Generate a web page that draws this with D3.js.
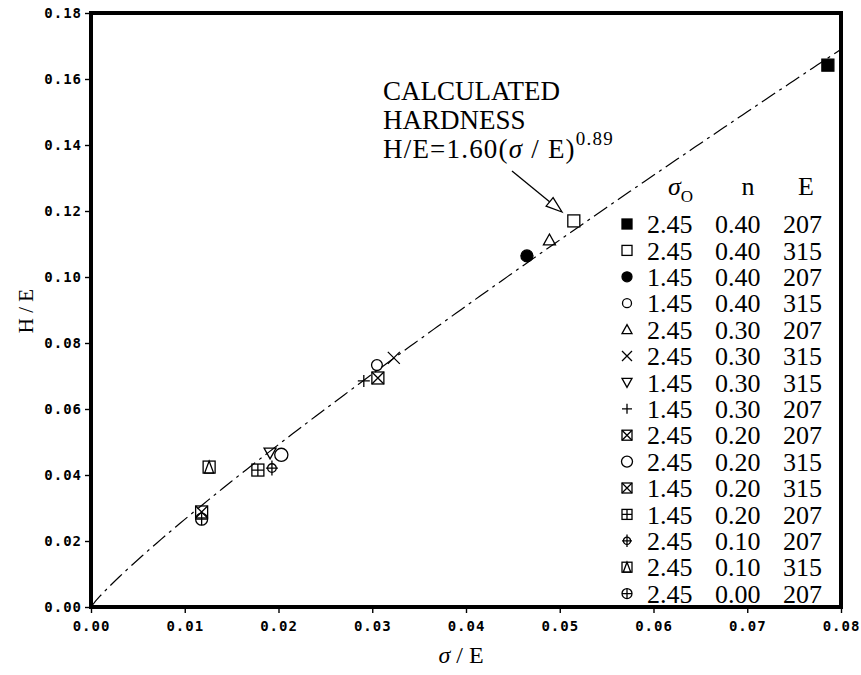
<!DOCTYPE html>
<html>
<head>
<meta charset="utf-8">
<script src="https://cdn.jsdelivr.net/npm/d3@7"></script>
<style>
  body { margin: 0; background: #fff; }
  svg { display: block; }
</style>
</head>
<body>
<svg id="chart" width="861" height="675"></svg>
<script>
// ---- data ----
const sigma0 = ["2.45", "2.45", "1.45", "1.45", "2.45", "2.45", "1.45", "1.45", "2.45", "2.45", "1.45", "1.45", "2.45", "2.45", "2.45"];
const nValues = ["0.40", "0.40", "0.40", "0.40", "0.30", "0.30", "0.30", "0.30", "0.20", "0.20", "0.20", "0.20", "0.10", "0.10", "0.00"];
const eValues = ["207", "315", "207", "315", "207", "315", "315", "207", "207", "315", "315", "207", "207", "315", "207"];
const markers = ["squareFilled", "square", "circleFilled", "circleSmall", "triUp", "cross", "triDown", "plus",
                 "squareX", "circleLarge", "squareX", "squareGrid", "circlePlusLong", "squareTri", "circlePlus"];
const sigmaOverE = [0.0786, 0.0515, 0.0465, 0.0305, 0.0489, 0.0323, 0.0191, 0.0291, 0.0306, 0.0203, 0.0118, 0.0178, 0.0193, 0.0126, 0.0118];
const hOverE     = [0.1642, 0.1170, 0.1064, 0.0733, 0.1112, 0.0755, 0.0467, 0.0685, 0.0694, 0.0461, 0.0288, 0.0415, 0.0421, 0.0424, 0.0266];

const xTicks = [0, 0.01, 0.02, 0.03, 0.04, 0.05, 0.06, 0.07, 0.08];
const yTicks = [0, 0.02, 0.04, 0.06, 0.08, 0.10, 0.12, 0.14, 0.16, 0.18];

// calculated hardness: H/E = 1.60 (sigma/E)^0.89
const fitCoef = 1.60;
const fitExp = 0.89;

// ---- layout ----
const svg = d3.select("#chart");
const x = d3.scaleLinear().domain([0, 0.08]).range([91, 841]);
const y = d3.scaleLinear().domain([0, 0.18]).range([607, 13]);

svg.append("rect").attr("width", 861).attr("height", 675).attr("fill", "#fff");

const tickFont = "'DejaVu Sans Mono', monospace";
const serif = "'Liberation Serif', 'Times New Roman', serif";

// axes
const yAxis = d3.axisLeft(y).tickValues(yTicks).tickSize(6).tickPadding(3).tickFormat(d3.format(".2f"));
const xAxis = d3.axisBottom(x).tickValues(xTicks).tickSize(6).tickPadding(8).tickFormat(d3.format(".2f"));

const gy = svg.append("g").attr("transform", `translate(${x(0)},0)`).call(yAxis);
const gx = svg.append("g").attr("transform", `translate(0,${y(0)})`).call(xAxis);
[gx, gy].forEach(g => {
  g.select(".domain").remove();
  g.selectAll(".tick line").attr("stroke", "#000").attr("stroke-width", 1.4);
  g.selectAll(".tick text")
    .attr("fill", "#000")
    .style("font-family", tickFont)
    .style("font-size", "14px")
    .style("font-weight", "bold")
    .style("letter-spacing", "1px");
});

// plot frame
svg.append("rect")
  .attr("x", x(0)).attr("y", y(0.18))
  .attr("width", x(0.08) - x(0)).attr("height", y(0) - y(0.18))
  .attr("fill", "none").attr("stroke", "#000").attr("stroke-width", 4);

// axis titles
svg.append("text")
  .attr("x", 461).attr("y", 663)
  .attr("text-anchor", "middle")
  .style("font-family", serif).style("font-size", "24px")
  .html("<tspan font-style='italic'>σ</tspan> / E");

svg.append("text")
  .attr("transform", "translate(33,311) rotate(-90)")
  .attr("text-anchor", "middle")
  .style("font-family", serif).style("font-size", "21px")
  .text("H / E");

// fitted curve
const fitX = d3.range(0, 0.08001, 0.0005);
const line = d3.line().x(d => x(d)).y(d => y(fitCoef * Math.pow(d, fitExp)));
svg.append("path")
  .datum(fitX)
  .attr("d", line)
  .attr("fill", "none")
  .attr("stroke", "#000")
  .attr("stroke-width", 1.2)
  .attr("stroke-dasharray", "16,5,3,5");

// marker glyphs
function drawMarker(g, type, s) {
  const h = s / 2;
  const sw = 1.3;
  const add = (tag) => g.append(tag).attr("stroke", "#000").attr("stroke-width", sw).attr("fill", "none");
  const rect = () => add("rect").attr("x", -h).attr("y", -h).attr("width", s).attr("height", s);
  switch (type) {
    case "squareFilled": rect().attr("fill", "#000"); break;
    case "square": rect().attr("fill", "#fff"); break;
    case "circleFilled": add("circle").attr("r", h).attr("fill", "#000"); break;
    case "circleSmall": add("circle").attr("r", h * 0.9); break;
    case "circleLarge": add("circle").attr("r", h * 1.1); break;
    case "triUp": add("path").attr("d", `M0,${-h}L${h},${h * 0.8}L${-h},${h * 0.8}Z`); break;
    case "triDown": add("path").attr("d", `M0,${h}L${h},${-h * 0.8}L${-h},${-h * 0.8}Z`); break;
    case "cross": add("path").attr("d", `M${-h},${-h}L${h},${h}M${h},${-h}L${-h},${h}`); break;
    case "plus": add("path").attr("d", `M${-h},0L${h},0M0,${-h}L0,${h}`); break;
    case "squareX": rect(); add("path").attr("d", `M${-h},${-h}L${h},${h}M${h},${-h}L${-h},${h}`); break;
    case "squareGrid": rect(); add("path").attr("d", `M${-h},0L${h},0M0,${-h}L0,${h}`); break;
    case "squareTri": rect(); add("path").attr("d", `M0,${-h}L${h * 0.75},${h}L${-h * 0.75},${h}Z`); break;
    case "circlePlusLong":
      add("circle").attr("r", h * 0.72);
      add("path").attr("d", `M${-h},0L${h},0M0,${-h * 1.25}L0,${h * 1.25}`);
      break;
    case "circlePlus":
      add("circle").attr("r", h);
      add("path").attr("d", `M${-h},0L${h},0M0,${-h}L0,${h}`);
      break;
  }
}

// data points
const points = svg.append("g");
markers.forEach((m, i) => {
  const g = points.append("g").attr("transform", `translate(${x(sigmaOverE[i])},${y(hOverE[i])})`);
  drawMarker(g, m, 12);
});

// legend table
const legendX = 627, rowY0 = 224, rowStep = 26.4;
const legend = svg.append("g");
const colText = (txt, xx, yy) => legend.append("text")
  .attr("x", xx).attr("y", yy).attr("dy", "0.35em")
  .style("font-family", serif).style("font-size", "26px")
  .text(txt);

// header
legend.append("text")
  .attr("x", 668).attr("y", 195)
  .style("font-family", serif).style("font-size", "26px")
  .html("<tspan font-style='italic'>σ</tspan><tspan dy='7' font-size='17px'>O</tspan>");
legend.append("text").attr("x", 748).attr("y", 195).attr("text-anchor", "middle")
  .style("font-family", serif).style("font-size", "26px").text("n");
legend.append("text").attr("x", 806).attr("y", 195).attr("text-anchor", "middle")
  .style("font-family", serif).style("font-size", "26px").text("E");

markers.forEach((m, i) => {
  const yy = rowY0 + i * rowStep;
  const g = legend.append("g").attr("transform", `translate(${legendX},${yy})`);
  drawMarker(g, m, 10);
  colText(sigma0[i], 647, yy);
  colText(nValues[i], 715, yy);
  colText(eValues[i], 783, yy);
});

// annotation
const note = svg.append("g").style("font-family", serif).style("font-size", "27px");
note.append("text").attr("x", 383).attr("y", 100).text("CALCULATED");
note.append("text").attr("x", 383).attr("y", 129).text("HARDNESS");
note.append("text").attr("x", 383).attr("y", 158)
  .style("letter-spacing", "1.2px")
  .html(`H/E=${fitCoef.toFixed(2)}(<tspan font-style='italic'>σ</tspan> / E)<tspan dy='-13' font-size='19px'>${fitExp.toFixed(2)}</tspan>`);

// arrow pointing at the curve
const ax1 = 512, ay1 = 171, ax2 = 562, ay2 = 212;
svg.append("line").attr("x1", ax1).attr("y1", ay1).attr("x2", ax2 - 10).attr("y2", ay2 - 8.2)
  .attr("stroke", "#000").attr("stroke-width", 1.3);
{
  const ang = Math.atan2(ay2 - ay1, ax2 - ax1);
  const len = 16, wid = 5.5;
  const bx = ax2 - len * Math.cos(ang), by = ay2 - len * Math.sin(ang);
  const px = -Math.sin(ang) * wid, py = Math.cos(ang) * wid;
  svg.append("path")
    .attr("d", `M${ax2},${ay2}L${bx + px},${by + py}L${bx - px},${by - py}Z`)
    .attr("fill", "#fff").attr("stroke", "#000").attr("stroke-width", 1.3);
}
</script>
</body>
</html>
